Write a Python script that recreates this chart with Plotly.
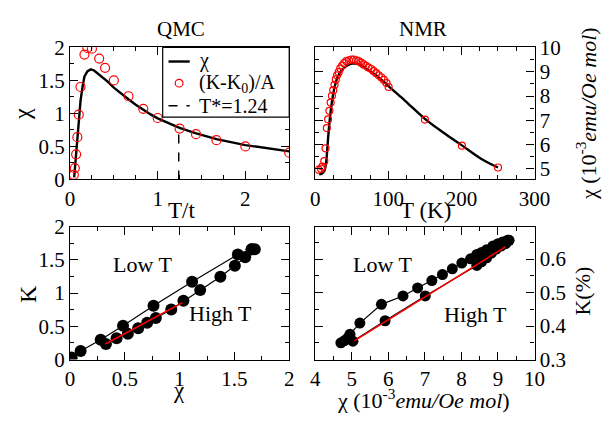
import plotly.graph_objects as go

W, H = 614, 424
FONT = "Liberation Serif"
OFF = 8  # page body margin compensation (px)

# ---------------- data ----------------
# QMC: chi(T) line
qmc_T = [0.048, 0.066, 0.084, 0.103, 0.121, 0.147, 0.165, 0.20, 0.238, 0.275, 0.32, 0.37,
         0.43, 0.50, 0.58, 0.67, 0.75, 0.84, 0.92, 1.0, 1.12, 1.25, 1.43, 1.67, 2.0, 2.25, 2.5]
qmc_chi = [0.03, 0.30, 0.63, 0.98, 1.20, 1.43, 1.56, 1.64, 1.667, 1.65, 1.60, 1.55,
           1.48, 1.39, 1.30, 1.21, 1.13, 1.05, 0.985, 0.925, 0.85, 0.78, 0.70, 0.61, 0.52, 0.47, 0.425]
# QMC: (K-K0)/A circles
qmc_kT = [0.044, 0.055, 0.07, 0.084, 0.10, 0.12, 0.165, 0.198, 0.25, 0.333, 0.40, 0.50,
          0.667, 0.836, 1.0, 1.25, 1.437, 1.67, 2.0, 2.5]
qmc_k = [0.07, 0.17, 0.38, 0.64, 0.98, 1.40, 1.89, 1.99, 1.98, 1.83, 1.69, 1.50,
         1.26, 1.07, 0.93, 0.77, 0.686, 0.595, 0.50, 0.405]
T_star = 1.24
T_star_top = 0.78
legend_labels = ["χ", "(K-K<sub>0</sub>)/A", "T*=1.24"]

# NMR: chi(T) line (10^-3 emu/Oe mol)
nmr_T = [5.3, 8.8, 12.3, 14.9, 16.7, 18.4, 21.0, 24.1, 27.2, 30.7, 35.1, 39.5, 43.9, 50.4,
         54.8, 61.4, 70.2, 83.3, 100.4, 117.5, 127, 150, 175, 200.6, 228, 250]
nmr_chi = [4.78, 4.81, 4.91, 5.30, 5.94, 6.59, 7.36, 8.01, 8.46, 8.79, 9.02, 9.17, 9.26, 9.33,
           9.33, 9.28, 9.11, 8.85, 8.40, 7.95, 7.69, 7.06, 6.50, 5.97, 5.40, 5.06]
# NMR: circles
nmr_kT = [4.4, 7.9, 9.6, 12.3, 14.0, 15.8, 17.5, 19.3, 21.0, 22.8, 24.6, 26.3, 28.1, 29.8,
          32.0, 34.2, 36.8, 39.5, 42.5, 46.0, 49.6, 52.6, 56.0, 59.2, 62.7, 65.8, 69.3,
          72.8, 76.8, 79.8, 83.3, 86.8, 90.4, 93.9, 97.4, 100.4, 150, 200.6, 250]
nmr_k = [4.97, 5.01, 5.10, 5.32, 5.85, 6.68, 7.04, 7.39, 7.73, 8.01, 8.24, 8.46, 8.68, 8.85,
         8.98, 9.14, 9.25, 9.35, 9.43, 9.47, 9.50, 9.50, 9.47, 9.43, 9.37, 9.30, 9.24,
         9.17, 9.11, 9.02, 8.94, 8.85, 8.76, 8.66, 8.53, 8.37, 7.03, 5.96, 5.06]

# QMC K vs chi
qk_low_chi = [0.015, 0.097, 0.28, 0.484, 0.762, 1.114, 1.531, 1.657]
qk_low_K = [0.03, 0.13, 0.30, 0.51, 0.81, 1.17, 1.58, 1.66]
qk_high_chi = [1.657, 1.686, 1.598, 1.504, 1.372, 1.188, 1.035, 0.924, 0.783, 0.704, 0.622,
               0.528, 0.425, 0.328]
qk_high_K = [1.66, 1.66, 1.54, 1.41, 1.247, 1.045, 0.885, 0.753, 0.626, 0.555, 0.47,
             0.39, 0.32, 0.235]
qk_fit_chi = [0.323, 1.026]
qk_fit_K = [0.235, 0.856]

# NMR K(%) vs chi
nk_low_chi = [4.70, 4.80, 4.90, 4.95, 5.22, 5.81, 6.40, 6.80, 7.19, 7.48, 7.75, 8.01, 8.25,
              8.42, 8.55, 8.69, 8.86, 9.0, 9.13, 9.26, 9.30]
nk_low_K = [0.350, 0.357, 0.366, 0.376, 0.409, 0.465, 0.490, 0.514, 0.536, 0.554, 0.571, 0.588,
            0.601, 0.614, 0.620, 0.628, 0.639, 0.646, 0.651, 0.656, 0.656]
nk_high_chi = [9.30, 9.21, 9.08, 8.95, 8.82, 8.69, 8.55, 8.42, 7.01, 5.91, 5.03]
nk_high_K = [0.656, 0.646, 0.639, 0.630, 0.618, 0.604, 0.592, 0.581, 0.490, 0.416, 0.355]
nk_fit_chi = [5.07, 9.21]
nk_fit_K = [0.356, 0.637]

# ---------------- layout helpers ----------------
def px_x(p):
    return (p - OFF) / W

def px_y(p):
    return 1 - (p - OFF) / H

TICKFONT = dict(family=FONT, size=21, color="black")


def axis(domain, rng, dtick, minor_dtick, side=None, anchor=None, tick0=None):
    d = dict(domain=domain, range=rng, dtick=dtick, ticks="inside", ticklen=8, tickwidth=1.2,
             tickcolor="black", showline=True, linecolor="black", linewidth=1.2,
             mirror="allticks", showgrid=False, zeroline=False, tickfont=TICKFONT,
             minor=dict(ticks="inside", ticklen=4, tickwidth=1.2, tickcolor="black",
                        dtick=minor_dtick, showgrid=False),
             anchor=anchor)
    if tick0 is not None:
        d["tick0"] = tick0
        d["minor"]["tick0"] = tick0
    if side:
        d["side"] = side
    return d

xL = [px_x(67), px_x(294)]
xR = [px_x(321), px_x(548)]
yT = [px_y(177), px_y(37)]
yB = [px_y(368), px_y(227)]

fig = go.Figure()

# top-left
fig.add_trace(go.Scatter(x=qmc_T, y=qmc_chi, mode="lines", line=dict(color="black", width=2.4),
                         name=legend_labels[0], xaxis="x", yaxis="y"))
fig.add_trace(go.Scatter(x=qmc_kT, y=qmc_k, mode="markers",
                         marker=dict(symbol="circle-open", size=9, color="red", line=dict(width=1.2)),
                         name=legend_labels[1], xaxis="x", yaxis="y"))
fig.add_trace(go.Scatter(x=[T_star, T_star], y=[0, T_star_top], mode="lines",
                         line=dict(color="black", width=1.5, dash="dash"),
                         name=legend_labels[2], xaxis="x", yaxis="y"))

# top-right
fig.add_trace(go.Scatter(x=nmr_T, y=nmr_chi, mode="lines", line=dict(color="black", width=2.4),
                         line_shape="spline", xaxis="x2", yaxis="y2"))
fig.add_trace(go.Scatter(x=nmr_kT, y=nmr_k, mode="markers",
                         marker=dict(symbol="circle-open", size=7, color="red", line=dict(width=1.2)),
                         xaxis="x2", yaxis="y2"))

# bottom-left
for xs, ys in [(qk_low_chi, qk_low_K), (qk_high_chi, qk_high_K)]:
    fig.add_trace(go.Scatter(x=xs, y=ys, mode="lines+markers", line=dict(color="black", width=1.2),
                             marker=dict(size=12, color="black"), xaxis="x3", yaxis="y3"))
fig.add_trace(go.Scatter(x=qk_fit_chi, y=qk_fit_K, mode="lines", line=dict(color="red", width=1.5),
                         xaxis="x3", yaxis="y3"))

# bottom-right
for xs, ys in [(nk_low_chi, nk_low_K), (nk_high_chi, nk_high_K)]:
    fig.add_trace(go.Scatter(x=xs, y=ys, mode="lines+markers", line=dict(color="black", width=1.2),
                             marker=dict(size=11, color="black"), xaxis="x4", yaxis="y4"))
fig.add_trace(go.Scatter(x=nk_fit_chi, y=nk_fit_K, mode="lines", line=dict(color="red", width=1.5),
                         xaxis="x4", yaxis="y4"))

ann = []
def txt(x, y, s, size=20, angle=0, xref="paper", yref="paper", xanchor="center"):
    ann.append(dict(x=x, y=y, text=s, xref=xref, yref=yref, showarrow=False, textangle=angle,
                    font=dict(family=FONT, size=size, color="black"),
                    xanchor=xanchor, yanchor="middle"))

txt(px_x(182), px_y(18), "QMC", 21)
txt(px_x(433), px_y(18), "NMR", 21)
txt(px_x(182), px_y(210), "T/t", 23)
txt(px_x(435), px_y(210), "T (K)", 23)
txt(px_x(18), px_y(108), "χ", 24, -90)
txt(px_x(23), px_y(298), "K", 24, -90)
txt(px_x(180), px_y(401), "χ", 23)
txt(px_x(602), px_y(107), "χ (10<sup>-3</sup><i>emu/Oe mol</i>)", 22, -90)
txt(px_x(598), px_y(295), "K(%)", 22, -90)
txt(px_x(433), px_y(410), "χ (10<sup>-3</sup><i>emu/Oe mol</i>)", 22)
txt(0.66, 1.435, "Low T", 22, 0, "x3", "y3")
txt(1.37, 0.69, "High T", 22, 0, "x3", "y3")
txt(5.83, 0.583, "Low T", 22, 0, "x4", "y4")
txt(8.38, 0.436, "High T", 22, 0, "x4", "y4")

# legend box (drawn above the axes like the original)
shapes = [
    dict(type="rect", xref="paper", yref="paper", x0=px_x(163), x1=px_x(294), y0=px_y(111), y1=px_y(37),
         line=dict(color="black", width=1.2), fillcolor="white", layer="above"),
    dict(type="line", xref="paper", yref="paper", x0=px_x(169), x1=px_x(191), y0=px_y(52), y1=px_y(52),
         line=dict(color="black", width=2.4), layer="above"),
    dict(type="circle", xref="paper", yref="paper", x0=px_x(176), x1=px_x(184), y0=px_y(79), y1=px_y(71),
         line=dict(color="red", width=1.2), layer="above"),
    dict(type="line", xref="paper", yref="paper", x0=px_x(169), x1=px_x(191), y0=px_y(99), y1=px_y(99),
         line=dict(color="black", width=1.5, dash="dash"), layer="above"),
]
for lbl, yy in zip(legend_labels, [51, 75, 99]):
    txt(px_x(198), px_y(yy), lbl, 20, 0, xanchor="left")

fig.update_layout(
    width=W, height=H, margin=dict(l=0, r=0, t=0, b=0),
    paper_bgcolor="white", plot_bgcolor="white", showlegend=False,
    font=dict(family=FONT, color="black"),
    xaxis=axis(xL, [0, 2.5], 1, 0.25, anchor="y"),
    yaxis=axis(yT, [0, 2], 0.5, 0.25, anchor="x"),
    xaxis2=axis(xR, [0, 300], 100, 25, anchor="y2"),
    yaxis2=axis(yT, [4.57, 10], 1, 0.5, side="right", anchor="x2"),
    xaxis3=axis(xL, [0, 2], 0.5, 0.25, anchor="y3"),
    yaxis3=axis(yB, [0, 2], 0.5, 0.25, anchor="x3"),
    xaxis4=axis(xR, [4, 10], 1, 0.5, anchor="y4"),
    yaxis4=axis(yB, [0.3, 0.697], 0.1, 0.05, side="right", anchor="x4", tick0=0.3),
    shapes=shapes,
    annotations=ann,
)

fig.write_html("out.html")
